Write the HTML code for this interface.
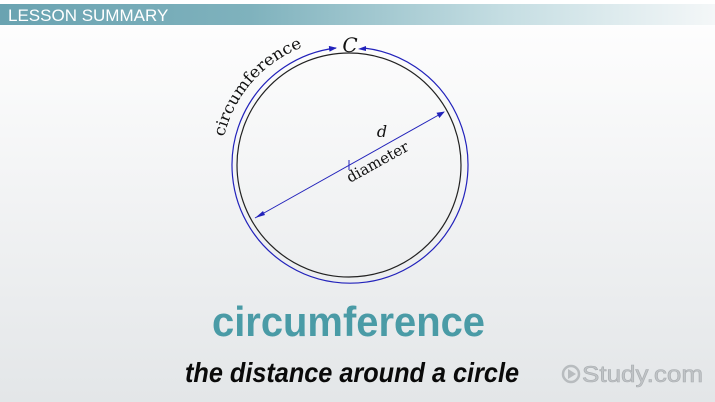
<!DOCTYPE html>
<html><head><meta charset="utf-8"><style>
html,body{margin:0;padding:0;}
body{width:715px;height:402px;overflow:hidden;background:linear-gradient(180deg,#ffffff 0%,#f3f4f5 45%,#e3e6e8 100%);}
svg{display:block}
</style></head><body>
<svg width="715" height="402" viewBox="0 0 715 402">
<defs>
<linearGradient id="bn" x1="0" x2="1" y1="0" y2="0">
<stop offset="0" stop-color="#6aa3b1"/><stop offset="0.35" stop-color="#7fb2bd"/><stop offset="0.7" stop-color="#c4dde2"/><stop offset="1" stop-color="#f4f7f8"/>
</linearGradient>
<marker id="ah" markerWidth="8" markerHeight="6" refX="7" refY="3" orient="auto" markerUnits="userSpaceOnUse"><path d="M0,0 L8,3 L0,6 z" fill="#2222bb"/></marker>
<path id="lblarc" d="M224,137 A127,127 0 0 1 320,42" fill="none"/>
</defs>
<rect x="0" y="4" width="715" height="21" fill="url(#bn)"/>
<text x="8" y="21" font-family="Liberation Sans, sans-serif" font-size="17" fill="#ffffff">LESSON SUMMARY</text>
<circle cx="349" cy="165" r="112" fill="none" stroke="#222" stroke-width="1.2"/>
<path d="M364,48 A118,118 0 1 1 336,48" fill="none" stroke="#2222bb" stroke-width="1.2" marker-end="url(#ah)"/>
<path d="M358,46 L366,48 L358,51 z" fill="#2222bb" transform="rotate(180 362 48.5)"/>
<line x1="255" y1="218" x2="444" y2="112" stroke="#2222bb" stroke-width="1" marker-end="url(#ah)"/>
<polygon points="255,218 263,211 265,215" fill="#2222bb"/>
<line x1="349" y1="160" x2="349" y2="170" stroke="#2222bb" stroke-width="1"/>
<text x="350" y="52" text-anchor="middle" font-family="DejaVu Serif, serif" font-style="italic" font-size="20" fill="#111">C</text>
<text x="382" y="137" text-anchor="middle" font-family="DejaVu Serif, serif" font-style="italic" font-size="16" fill="#111">d</text>
<text x="0" y="0" transform="translate(350,183) rotate(-29)" font-family="DejaVu Serif, serif" font-size="15" fill="#111">diameter</text>
<text font-family="DejaVu Serif, serif" font-size="16" fill="#111"><textPath href="#lblarc" textLength="124" lengthAdjust="spacingAndGlyphs">circumference</textPath></text>
<text x="212" y="336" textLength="273" lengthAdjust="spacingAndGlyphs" font-family="Liberation Sans, sans-serif" font-weight="bold" font-size="42" fill="#4a9ba6">circumference</text>
<text x="185" y="382" textLength="334" lengthAdjust="spacingAndGlyphs" font-family="Liberation Sans, sans-serif" font-weight="bold" font-style="italic" font-size="28" fill="#0a0a0a">the distance around a circle</text>
<g>
<circle cx="571" cy="374" r="8" fill="none" stroke="#b8bcbf" stroke-width="2.5"/>
<polygon points="568,369 576,374 568,379" fill="#b8bcbf"/>
<text x="582" y="382" textLength="121" lengthAdjust="spacingAndGlyphs" font-family="Liberation Sans, sans-serif" font-size="23" fill="#c0c4c7" stroke="#a9adb0" stroke-width="0.6">Study.com</text>
</g>
</svg>
</body></html>
